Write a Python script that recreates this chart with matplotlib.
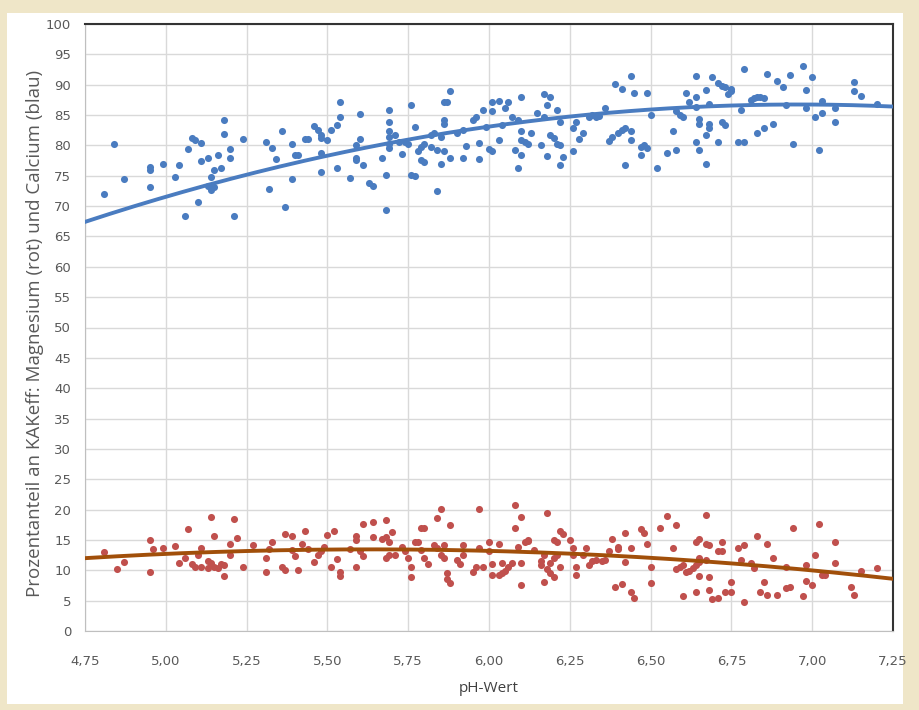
import numpy as np
import matplotlib
matplotlib.use("Agg")
import matplotlib.pyplot as plt
from matplotlib.patches import Rectangle
from matplotlib.ticker import FuncFormatter

# Calcium (blau): pH-Wert, Prozentanteil
ca_ph = [4.81, 4.84, 4.87, 4.95, 4.95, 4.95, 4.99, 5.03, 5.04, 5.06, 5.07, 5.08, 5.09, 5.10,
         5.11, 5.11, 5.13, 5.14, 5.15, 5.13, 5.14, 5.15, 5.16, 5.17, 5.18, 5.18, 5.20, 5.20,
         5.21, 5.24, 5.31, 5.33, 5.34, 5.32, 5.36, 5.37, 5.39, 5.39, 5.40, 5.41, 5.43, 5.44,
         5.46, 5.47, 5.48, 5.48, 5.48, 5.48, 5.50, 5.51, 5.53, 5.53, 5.54, 5.54, 5.57, 5.59,
         5.59, 5.60, 5.59, 5.61, 5.60, 5.63, 5.64, 5.67, 5.68, 5.68, 5.69, 5.69, 5.69, 5.69,
         5.69, 5.69, 5.71, 5.72, 5.73, 5.74, 5.75, 5.76, 5.77, 5.76, 5.77, 5.78, 5.79, 5.80,
         5.79, 5.80, 5.82, 5.83, 5.82, 5.84, 5.84, 5.85, 5.85, 5.86, 5.86, 5.86, 5.87, 5.88,
         5.86, 5.88, 5.90, 5.92, 5.92, 5.93, 5.95, 5.96, 5.97, 5.97, 5.98, 6.00, 6.01,
         5.99, 6.01, 6.01, 6.03, 6.03, 6.04, 6.05, 6.06, 6.07, 6.08, 6.09, 6.09, 6.10, 6.10,
         6.10, 6.10, 6.11, 6.12, 6.13, 6.15, 6.16, 6.17, 6.18, 6.19, 6.17, 6.18, 6.19, 6.20,
         6.21, 6.22, 6.21, 6.22, 6.22, 6.23, 6.26, 6.26, 6.27, 6.28, 6.29, 6.31, 6.32, 6.33,
         6.34, 6.36, 6.37, 6.38, 6.40, 6.41, 6.42, 6.39, 6.41, 6.42, 6.44, 6.45, 6.44, 6.44,
         6.47, 6.48, 6.49, 6.47, 6.49, 6.50, 6.52, 6.55, 6.57, 6.58, 6.58, 6.59, 6.60, 6.61,
         6.62, 6.64, 6.64, 6.64, 6.64, 6.65, 6.65, 6.65, 6.67, 6.67, 6.68, 6.68, 6.67, 6.68,
         6.69, 6.71, 6.71, 6.72, 6.73, 6.72, 6.73, 6.74, 6.75, 6.75, 6.77, 6.79, 6.78, 6.79,
         6.81, 6.82, 6.83, 6.84, 6.85, 6.83, 6.85, 6.88, 6.86, 6.89, 6.91, 6.92, 6.93, 6.94,
         6.97, 6.98, 6.98, 7.00, 7.01, 7.03, 7.02, 7.03, 7.07, 7.07, 7.13, 7.13, 7.15, 7.20]
ca_pct = [72.0, 80.2, 74.4, 76.4, 76.0, 73.2, 76.9, 74.8, 76.8, 68.3, 79.4, 81.2, 80.9, 70.7,
          80.4, 77.4, 78.0, 74.8, 75.9, 73.3, 72.7, 73.1, 78.4, 76.2, 84.2, 81.9, 78.0, 79.4,
          68.4, 81.0, 80.5, 79.5, 77.7, 72.8, 82.3, 69.8, 80.3, 74.4, 78.4, 78.4, 81.0, 81.1,
          83.2, 82.5, 81.7, 81.2, 78.7, 75.7, 80.9, 82.5, 76.2, 83.4, 84.7, 87.1, 74.6, 77.6,
          80.1, 81.0, 78.0, 76.8, 85.1, 73.8, 73.3, 78.0, 75.2, 69.4, 85.8, 83.9, 82.3, 81.4,
          80.3, 79.5, 81.7, 80.6, 78.6, 80.6, 80.3, 86.7, 83.1, 75.1, 75.0, 79.1, 79.8, 80.3,
          77.6, 77.3, 81.7, 82.0, 79.8, 79.2, 72.5, 76.9, 81.4, 83.6, 84.2, 87.2, 87.2, 89.0,
          79.1, 77.9, 82.0, 82.5, 78.0, 79.9, 84.2, 84.7, 77.7, 80.4, 85.9, 79.4, 87.2,
          83.1, 79.0, 85.6, 87.3, 80.9, 83.4, 86.1, 87.1, 84.7, 79.2, 76.3, 84.2, 82.3, 80.9,
          78.5, 87.9, 80.5, 80.3, 82.1, 85.3, 80.0, 88.4, 86.7, 87.9, 84.7, 78.3, 81.7, 81.3,
          80.3, 80.1, 85.8, 83.9, 76.8, 78.1, 79.0, 82.8, 83.9, 81.1, 82.1, 84.7, 85.0, 84.6,
          84.9, 86.1, 80.7, 81.4, 82.0, 82.5, 82.9, 90.1, 89.3, 76.8, 91.5, 88.6, 82.4, 80.9,
          79.8, 80.1, 79.6, 78.5, 88.7, 85.0, 76.2, 78.7, 82.4, 79.2, 85.6, 85.0, 84.7, 88.6,
          87.2, 91.5, 88.0, 86.4, 80.5, 79.2, 84.4, 83.5, 77.0, 81.7, 83.6, 82.8, 89.1, 86.8,
          91.3, 80.5, 90.2, 89.8, 89.7, 83.9, 83.4, 88.4, 89.3, 88.9, 80.5, 80.5, 85.8, 92.6,
          87.5, 87.8, 87.9, 87.9, 87.8, 82.1, 82.9, 83.5, 91.7, 90.6, 89.7, 86.7, 91.6, 80.3,
          93.1, 89.1, 86.1, 91.2, 84.7, 85.3, 79.2, 87.3, 83.8, 86.1, 90.5, 89.0, 88.2, 86.9]

# Magnesium (rot): pH-Wert, Prozentanteil
mg_ph = [4.81, 4.85, 4.87, 4.95, 4.96, 4.95, 4.99, 5.03, 5.04, 5.06, 5.07, 5.08, 5.09, 5.10,
         5.11, 5.11, 5.13, 5.13, 5.14, 5.14, 5.15, 5.15, 5.16, 5.18, 5.17, 5.18, 5.20, 5.20,
         5.21, 5.22, 5.24, 5.27, 5.31, 5.31, 5.32, 5.33, 5.36, 5.37, 5.37, 5.39, 5.39, 5.40,
         5.41, 5.42, 5.43, 5.44, 5.46, 5.47, 5.48, 5.49, 5.50, 5.51, 5.52, 5.53, 5.54, 5.54,
         5.57, 5.59, 5.59, 5.59, 5.60, 5.61, 5.61, 5.64, 5.64, 5.68, 5.67, 5.68, 5.69, 5.68,
         5.69, 5.70, 5.71, 5.73, 5.74, 5.75, 5.76, 5.76, 5.77, 5.78, 5.79, 5.80, 5.79, 5.80,
         5.81, 5.83, 5.84, 5.84, 5.85, 5.85, 5.86, 5.86, 5.87, 5.87, 5.88, 5.88, 5.90, 5.91,
         5.92, 5.92, 5.95, 5.96, 5.97, 5.97, 5.98, 6.00, 6.00, 6.01, 6.01, 6.03, 6.03, 6.04,
         6.05, 6.06, 6.07, 6.04, 6.08, 6.08, 6.10, 6.09, 6.11, 6.12, 6.12, 6.10, 6.10, 6.14,
         6.16, 6.16, 6.17, 6.17, 6.18, 6.18, 6.19, 6.20, 6.19, 6.20, 6.21, 6.20, 6.21, 6.22,
         6.23, 6.22, 6.25, 6.26, 6.26, 6.27, 6.27, 6.29, 6.30, 6.31, 6.32, 6.33, 6.35, 6.36,
         6.37, 6.38, 6.39, 6.41, 6.40, 6.40, 6.42, 6.42, 6.44, 6.44, 6.45, 6.47, 6.48, 6.49,
         6.50, 6.50, 6.53, 6.55, 6.57, 6.58, 6.58, 6.59, 6.60, 6.61, 6.62, 6.63, 6.64, 6.60,
         6.64, 6.64, 6.65, 6.65, 6.65, 6.65, 6.67, 6.67, 6.68, 6.67, 6.68, 6.68, 6.69, 6.71,
         6.72, 6.72, 6.71, 6.73, 6.75, 6.75, 6.77, 6.79, 6.78, 6.81, 6.82, 6.79, 6.83, 6.84,
         6.85, 6.86, 6.86, 6.88, 6.89, 6.92, 6.93, 6.92, 6.94, 6.97, 6.98, 6.98, 7.00, 7.01,
         7.02, 7.03, 7.04, 7.07, 7.07, 7.12, 7.13, 7.15, 7.20]
mg_pct = [13.0, 10.2, 11.3, 15.0, 13.5, 9.8, 13.7, 14.0, 11.2, 12.1, 16.8, 11.0, 10.6, 12.5,
          13.6, 10.6, 11.5, 10.4, 11.2, 18.7, 15.7, 10.6, 10.3, 9.1, 11.0, 10.9, 12.6, 14.3,
          18.5, 15.4, 10.6, 14.1, 12.1, 9.8, 13.5, 14.7, 10.6, 10.0, 15.9, 15.7, 13.3, 12.4,
          10.0, 14.4, 16.5, 13.5, 11.4, 12.5, 13.1, 13.9, 15.8, 10.6, 16.5, 11.9, 9.8, 9.1,
          13.5, 15.0, 15.7, 10.6, 13.2, 12.4, 17.7, 18.0, 15.5, 18.3, 15.2, 15.5, 14.7, 12.0,
          12.5, 16.3, 12.6, 13.9, 13.1, 12.1, 10.6, 8.9, 14.7, 14.7, 16.9, 16.9, 13.3, 12.0,
          11.0, 14.2, 13.7, 18.6, 20.1, 12.5, 12.0, 14.1, 9.5, 8.6, 7.9, 17.5, 11.7, 11.0,
          14.2, 12.5, 9.8, 10.6, 20.1, 13.6, 10.6, 14.7, 13.1, 11.0, 9.2, 14.3, 9.2, 9.5,
          9.9, 10.6, 11.2, 11.2, 20.8, 17.0, 11.2, 13.9, 14.7, 14.8, 15.0, 18.8, 7.5, 13.3,
          10.9, 11.5, 12.5, 8.0, 19.4, 10.2, 9.5, 8.9, 11.2, 12.0, 12.5, 15.0, 14.7, 16.4,
          15.9, 10.6, 15.0, 13.6, 12.5, 10.6, 9.3, 12.5, 13.7, 10.9, 11.5, 11.7, 11.5, 11.7,
          13.2, 15.2, 7.3, 7.7, 13.9, 13.5, 11.4, 16.1, 13.7, 6.5, 5.5, 16.8, 16.1, 14.4,
          10.6, 7.9, 17.0, 19.0, 13.6, 17.5, 10.2, 10.6, 10.9, 9.7, 9.9, 10.4, 10.9, 5.8,
          6.4, 14.7, 15.2, 9.1, 12.0, 11.4, 19.1, 14.3, 14.1, 11.7, 8.9, 6.8, 5.3, 13.2,
          14.7, 13.2, 5.4, 6.5, 8.0, 6.5, 13.6, 14.1, 11.7, 11.2, 10.4, 4.8, 15.7, 6.5,
          8.0, 6.0, 14.3, 12.1, 5.9, 7.1, 7.3, 10.6, 17.0, 5.8, 8.2, 10.8, 7.5, 12.6,
          17.7, 9.2, 9.2, 14.6, 11.2, 7.3, 6.0, 9.9, 10.4]

trend_ph = [4.75, 6.00, 7.25]
ca_trend = [67.4, 83.1, 86.4]
mg_trend = [12.0, 13.2, 8.6]

x_ticks = np.arange(4.75, 7.26, 0.25)
y_ticks = np.arange(0, 101, 5)

blue = '#4a7cc0'
red = '#c0504d'
brown = '#a14f0a'
grey_txt = '#595959'

fig = plt.figure(figsize=(9.2, 7.1), dpi=100)
fig.patch.set_facecolor('#efe6c8')
fig.patches.append(Rectangle((7 / 920, 1 - 704 / 710), 896 / 920, 691 / 710,
                             transform=fig.transFigure, facecolor='white',
                             edgecolor='none', zorder=-10))

ax = fig.add_axes([85 / 920, 1 - 631 / 710, 808 / 920, 607 / 710])
ax.set_facecolor('white')

ax.scatter(ca_ph, ca_pct, s=26, color=blue, zorder=3, linewidths=0)
ax.scatter(mg_ph, mg_pct, s=26, color=red, zorder=3, linewidths=0)

xs = np.linspace(4.75, 7.25, 200)
ca_fit = np.polyfit(trend_ph, ca_trend, 2)
mg_fit = np.polyfit(trend_ph, mg_trend, 2)
ax.plot(xs, np.polyval(ca_fit, xs), color=blue, lw=2.8, zorder=4)
ax.plot(xs, np.polyval(mg_fit, xs), color=brown, lw=2.8, zorder=4)

ax.set_xlim(4.75, 7.25)
ax.set_ylim(0, 100)
ax.set_xticks(x_ticks)
ax.set_yticks(y_ticks)
ax.xaxis.set_major_formatter(FuncFormatter(lambda v, p: f'{v:.2f}'.replace('.', ',')))
ax.grid(True, color='#d9d9d9', lw=1)
ax.set_axisbelow(True)
ax.tick_params(length=0, labelsize=9.5, colors=grey_txt)
ax.tick_params(axis='x', pad=17)
ax.tick_params(axis='y', pad=10)
for lab in ax.get_xticklabels() + ax.get_yticklabels():
    lab.set_family(['Liberation Sans Narrow', 'DejaVu Sans'])

ax.spines['left'].set_color('#bfbfbf')
ax.spines['bottom'].set_color('#bfbfbf')
ax.spines['top'].set_color('#333333')
ax.spines['top'].set_linewidth(1.5)
ax.spines['right'].set_color('#333333')
ax.spines['right'].set_linewidth(1.5)

ax.set_xlabel('pH-Wert', fontsize=11, color='#404040', family='Open Sans', labelpad=10)
ax.set_ylabel('Prozentanteil an KAKeff: Magnesium (rot) und Calcium (blau)',
              fontsize=13.5, color=grey_txt, family='Open Sans')
ax.yaxis.set_label_coords(-0.051, 0.49)

fig.savefig('out.png', dpi=100, facecolor=fig.get_facecolor())
